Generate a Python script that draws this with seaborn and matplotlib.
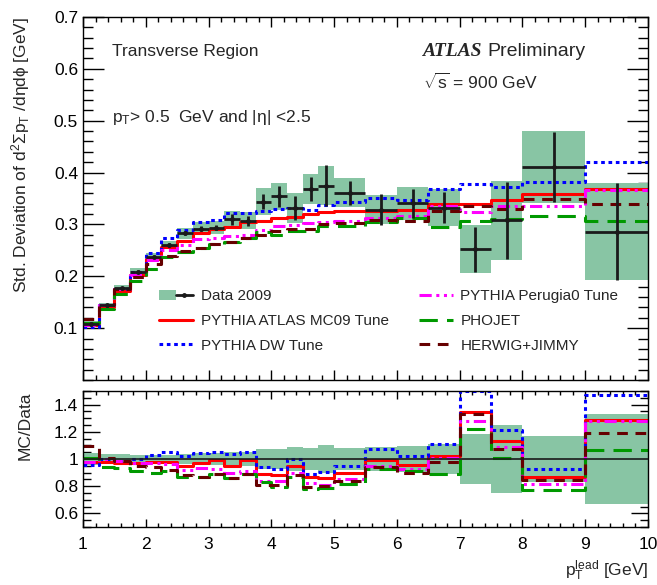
import numpy as np
import matplotlib
matplotlib.use("Agg")
import matplotlib.pyplot as plt
from matplotlib.patches import Patch
from matplotlib.lines import Line2D
from matplotlib.legend_handler import HandlerTuple
from matplotlib.ticker import MultipleLocator, FormatStrFormatter
import seaborn as sns

# leading track pT bins [GeV]
bin_edges = [1.0, 1.25, 1.5, 1.75, 2.0, 2.25, 2.5, 2.75, 3.0, 3.25, 3.5, 3.75,
             4.0, 4.25, 4.5, 4.75, 5.0, 5.5, 6.0, 6.5, 7.0, 7.5, 8.0, 9.0, 10.0]

data_2009 = [0.108, 0.144, 0.177, 0.209, 0.238, 0.261, 0.283, 0.292, 0.294, 0.310, 0.307, 0.344,
             0.354, 0.331, 0.368, 0.375, 0.361, 0.328, 0.341, 0.332, 0.252, 0.308, 0.411, 0.286]
data_stat = [0.003, 0.003, 0.003, 0.003, 0.003, 0.004, 0.004, 0.005, 0.005, 0.011, 0.010, 0.015,
             0.020, 0.023, 0.023, 0.040, 0.023, 0.030, 0.028, 0.030, 0.043, 0.074, 0.067, 0.093]
data_syst = [0.005, 0.005, 0.0065, 0.0065, 0.0075, 0.008, 0.011, 0.012, 0.013, 0.015, 0.016, 0.026,
             0.026, 0.029, 0.029, 0.038, 0.028, 0.028, 0.032, 0.036, 0.046, 0.076, 0.070, 0.094]

pythia_mc09 = [0.106, 0.141, 0.172, 0.203, 0.233, 0.256, 0.269, 0.283, 0.291, 0.295, 0.304, 0.306,
               0.312, 0.314, 0.320, 0.323, 0.325, 0.325, 0.327, 0.339, 0.340, 0.348, 0.358, 0.369]
pythia_dw = [0.103, 0.144, 0.175, 0.209, 0.245, 0.274, 0.289, 0.304, 0.309, 0.322, 0.322, 0.325,
             0.329, 0.331, 0.328, 0.338, 0.343, 0.351, 0.348, 0.369, 0.378, 0.373, 0.382, 0.420]
pythia_perugia0 = [0.106, 0.144, 0.175, 0.203, 0.231, 0.251, 0.260, 0.272, 0.273, 0.278, 0.280, 0.289,
                   0.297, 0.298, 0.302, 0.304, 0.307, 0.312, 0.317, 0.335, 0.323, 0.336, 0.335, 0.366]
phojet = [0.109, 0.136, 0.165, 0.190, 0.214, 0.238, 0.246, 0.254, 0.262, 0.267, 0.273, 0.286,
          0.280, 0.288, 0.287, 0.296, 0.296, 0.305, 0.312, 0.295, 0.307, 0.311, 0.316, 0.306]
herwig_jimmy = [0.118, 0.145, 0.175, 0.199, 0.224, 0.239, 0.249, 0.254, 0.262, 0.267, 0.273, 0.279,
                0.287, 0.291, 0.291, 0.300, 0.303, 0.308, 0.307, 0.325, 0.335, 0.330, 0.349, 0.340]

mc_labels = ["PYTHIA ATLAS MC09 Tune", "PYTHIA DW Tune", "PYTHIA Perugia0 Tune", "PHOJET", "HERWIG+JIMMY"]
mc_values = [pythia_mc09, pythia_dw, pythia_perugia0, phojet, herwig_jimmy]
mc_colors = ["#ff0000", "#0000ff", "#ff00ff", "#009900", "#660000"]
mc_styles = ["-", (0, (1.2, 1.2)), (0, (4, 1.5, 1, 1.5, 1, 1.5)), (0, (6, 3)), (0, (3.5, 2.5))]

sns.set_theme(style="ticks")
plt.rcParams["font.family"] = ["Liberation Sans", "DejaVu Sans"]
plt.rcParams["mathtext.fontset"] = "custom"
plt.rcParams["mathtext.rm"] = "Liberation Sans"
plt.rcParams["mathtext.it"] = "Liberation Sans"
plt.rcParams["mathtext.bf"] = "Liberation Sans:bold"
plt.rcParams["axes.edgecolor"] = "black"
plt.rcParams["xtick.color"] = "black"
plt.rcParams["ytick.color"] = "black"

edges = np.array(bin_edges)
centers = 0.5 * (edges[:-1] + edges[1:])
widths = np.diff(edges)
data = np.array(data_2009)
stat = np.array(data_stat)
syst = np.array(data_syst)
band_color = "#88c5a4"
fs = 12.5


def draw_steps(a, vals, color, ls):
    vals = np.asarray(vals)
    sns.lineplot(x=edges, y=np.append(vals, vals[-1]), drawstyle="steps-post", color=color,
                 linestyle=ls, linewidth=2.2, errorbar=None, ax=a, zorder=2)


fig = plt.figure(figsize=(6.57, 5.85), dpi=100)
ax = fig.add_axes([0.1263, 0.3504, 0.8600, 0.6206])
rax = fig.add_axes([0.1263, 0.0991, 0.8600, 0.2325])

# main panel
ax.bar(centers, 2 * syst, width=widths, bottom=data - syst, color=band_color, linewidth=0, zorder=1)
for vals, c, ls in zip(mc_values, mc_colors, mc_styles):
    draw_steps(ax, vals, c, ls)
ax.errorbar(centers, data, xerr=widths / 2, yerr=stat, fmt="o", ms=2.5, color="k",
            elinewidth=2, capsize=0, zorder=4)

# ratio panel
rax.bar(centers, 2 * syst / data, width=widths, bottom=1 - syst / data, color=band_color,
        linewidth=0, zorder=1)
rax.axhline(1, color="k", lw=1.2, zorder=3)
for vals, c, ls in zip(mc_values, mc_colors, mc_styles):
    draw_steps(rax, np.array(vals) / data, c, ls)

for a in (ax, rax):
    a.set_xlim(1, 10)
    a.xaxis.set_major_locator(MultipleLocator(1))
    a.xaxis.set_minor_locator(MultipleLocator(0.2))
    a.tick_params(which="both", direction="in", top=True, right=True, labelsize=fs, width=1)
    for s in a.spines.values():
        s.set_linewidth(1)
    a.set_xlabel("")
    a.set_ylabel("")

ax.set_ylim(0, 0.7)
ax.set_yticks([0.1, 0.2, 0.3, 0.4, 0.5, 0.6, 0.7])
ax.yaxis.set_minor_locator(MultipleLocator(0.02))
ax.tick_params(axis="x", labelbottom=False)
ax.tick_params(axis="y", which="major", length=15)
ax.tick_params(axis="y", which="minor", length=7.5)
ax.tick_params(axis="x", which="major", length=7)
ax.tick_params(axis="x", which="minor", length=3.5)

rax.set_ylim(0.5, 1.5)
rax.set_yticks([0.6, 0.8, 1.0, 1.2, 1.4])
rax.yaxis.set_major_formatter(FormatStrFormatter("%g"))
rax.yaxis.set_minor_locator(MultipleLocator(0.05))
rax.tick_params(axis="y", which="major", length=12)
rax.tick_params(axis="y", which="minor", length=6)
rax.tick_params(axis="x", which="major", length=6, pad=7)
rax.tick_params(axis="x", which="minor", length=3)

ax.set_ylabel(r"Std. Deviation of d$^{2}\Sigma$p$_{\rm T}$ /d$\eta$d$\phi$ [GeV]", loc="top", fontsize=fs)
ax.yaxis.set_label_coords(-0.09, 1.0)
rax.set_ylabel("MC/Data", loc="top", fontsize=fs)
rax.yaxis.set_label_coords(-0.09, 1.0)
rax.set_xlabel(r"p$_{\rm T}^{\rm lead}$ [GeV]", loc="right", fontsize=fs)
rax.xaxis.set_label_coords(1.0, -0.235)

ax.text(0.051, 0.904, "Transverse Region", transform=ax.transAxes, va="center", fontsize=fs)
ax.text(0.051, 0.722, r"p$_{\rm T}$> 0.5  GeV and |$\eta$| <2.5", transform=ax.transAxes,
        va="center", fontsize=fs)
ax.text(0.600, 0.904, "ATLAS", transform=ax.transAxes, va="center", fontsize=14,
        family="Liberation Serif", weight="bold", style="italic")
ax.text(0.715, 0.904, "Preliminary", transform=ax.transAxes, va="center", fontsize=14)
ax.text(0.602, 0.82, r"$\sqrt{s}$ = 900 GeV", transform=ax.transAxes, va="center", fontsize=fs)

data_handle = (Patch(facecolor=band_color, edgecolor="none"),
               Line2D([], [], color="k", lw=2, marker="o", ms=2.5))
handles = [data_handle]
for c, ls in zip(mc_colors, mc_styles):
    handles.append(Line2D([], [], color=c, linestyle=ls, lw=2.2))
labels = ["Data 2009"] + mc_labels
ax.legend(handles, labels, ncol=2, loc="upper left", bbox_to_anchor=(0.135, 0.25),
          frameon=False, fontsize=11, handlelength=2.2, handletextpad=0.5,
          columnspacing=2.0, labelspacing=0.7, borderaxespad=0, borderpad=0,
          handler_map={tuple: HandlerTuple(ndivide=None)})

fig.savefig("out.png", dpi=100)
